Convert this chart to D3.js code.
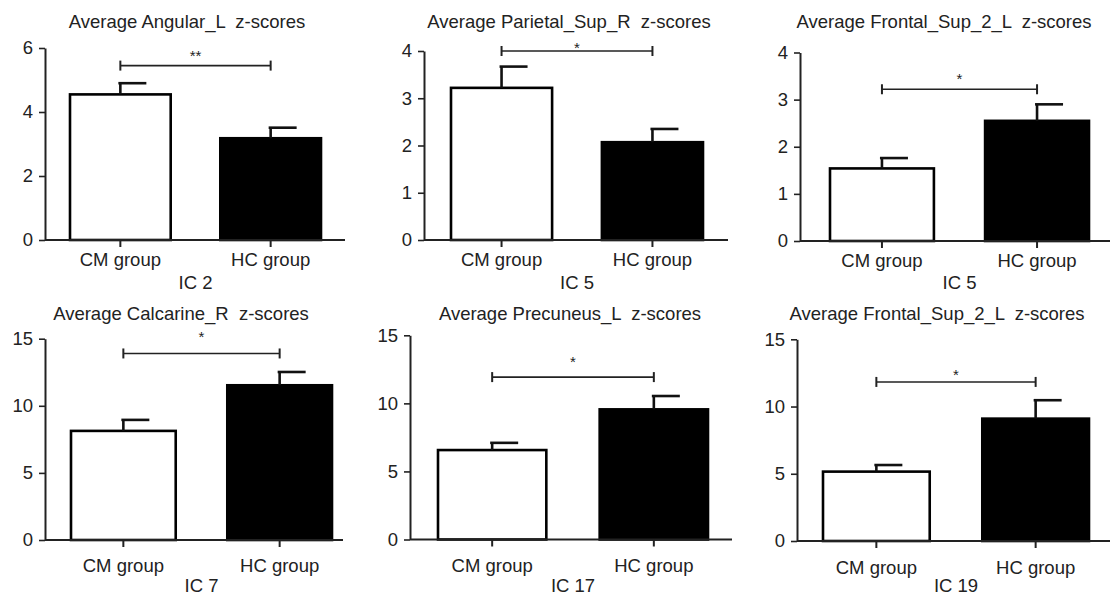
<!DOCTYPE html>
<html>
<head>
<meta charset="utf-8">
<script src="https://cdn.jsdelivr.net/npm/d3@7"></script>
<style>
  body { margin: 0; background: #fff; }
  svg text { font-family: 'Liberation Sans', Arial, sans-serif; fill: #222; }
</style>
</head>
<body>
<div class="chart"></div>
<script>
// DATA ------------------------------------
const categories = ['CM group', 'HC group'];
const titles = [
  'Average Angular_L  z-scores',
  'Average Parietal_Sup_R  z-scores',
  'Average Frontal_Sup_2_L  z-scores',
  'Average Calcarine_R  z-scores',
  'Average Precuneus_L  z-scores',
  'Average Frontal_Sup_2_L  z-scores'
];
const icLabels = ['IC 2', 'IC 5', 'IC 5', 'IC 7', 'IC 17', 'IC 19'];
const cmMeans = [4.55, 3.22, 1.54, 8.13, 6.57, 5.16];
const cmErrors = [0.35, 0.45, 0.22, 0.82, 0.53, 0.49];
const hcMeans = [3.18, 2.07, 2.55, 11.53, 9.56, 9.1];
const hcErrors = [0.33, 0.28, 0.35, 0.99, 0.98, 1.37];
const yMax = [6, 4, 4, 15, 15, 15];
const yTicks = [
  [0, 2, 4, 6],
  [0, 1, 2, 3, 4],
  [0, 1, 2, 3, 4],
  [0, 5, 10, 15],
  [0, 5, 10, 15],
  [0, 5, 10, 15]
];
const stars = ['**', '*', '*', '*', '*', '*'];
const bracketLevels = [5.45, 4.0, 3.22, 13.9, 11.93, 11.83];
const starLevels = [5.85, 4.13, 3.5, 15.35, 13.26, 12.56];

// LAYOUT (pixel positions of each panel) ---
const layout = [
  { axisX: 45, axisEnd: 345, base: 240, top: 48, barL: 70, barR: 321, titleX: 187, titleY: 28, catY: 266, icY: 289 },
  { axisX: 424, axisEnd: 728, base: 240, top: 51, barL: 451, barR: 703, titleX: 569, titleY: 28, catY: 266, icY: 289 },
  { axisX: 800, axisEnd: 1110, base: 241, top: 52.5, barL: 830, barR: 1089, titleX: 944, titleY: 28, catY: 267, icY: 289 },
  { axisX: 45, axisEnd: 343, base: 540, top: 338.7, barL: 71, barR: 332, titleX: 181, titleY: 320, catY: 572, icY: 592 },
  { axisX: 410, axisEnd: 732, base: 539.5, top: 335.3, barL: 438, barR: 708, titleX: 570, titleY: 320, catY: 572, icY: 592 },
  { axisX: 797, axisEnd: 1110, base: 541, top: 339.3, barL: 823, barR: 1089, titleX: 937, titleY: 320, catY: 574, icY: 592 }
];

const fontSize = 18.5;

const svg = d3
  .select('.chart')
  .append('svg')
  .attr('width', 1110)
  .attr('height', 596);

titles.forEach((title, i) => {
  const L = layout[i];
  const g = svg.append('g');

  const rows = categories.map((c, k) => ({
    cat: c,
    mean: k === 0 ? cmMeans[i] : hcMeans[i],
    err: k === 0 ? cmErrors[i] : hcErrors[i],
    fill: k === 0 ? '#fff' : '#000'
  }));

  const xScale = d3.scaleBand().domain(categories).range([L.barL, L.barR]).paddingInner(0.33);
  const yScale = d3.scaleLinear().domain([0, yMax[i]]).range([L.base, L.top]);
  const cx = (d) => xScale(d) + xScale.bandwidth() / 2;

  // bars
  g.selectAll('rect.bar')
    .data(rows)
    .enter()
    .append('rect')
    .attr('class', 'bar')
    .attr('x', (d) => xScale(d.cat))
    .attr('y', (d) => yScale(d.mean))
    .attr('width', xScale.bandwidth())
    .attr('height', (d) => L.base - yScale(d.mean))
    .attr('fill', (d) => d.fill)
    .attr('stroke', '#000')
    .attr('stroke-width', 2.6);

  // error bars (upper only)
  g.selectAll('line.err')
    .data(rows)
    .enter()
    .append('line')
    .attr('x1', (d) => cx(d.cat))
    .attr('x2', (d) => cx(d.cat))
    .attr('y1', (d) => yScale(d.mean))
    .attr('y2', (d) => yScale(d.mean + d.err))
    .attr('stroke', '#111')
    .attr('stroke-width', 2.6);

  g.selectAll('line.cap')
    .data(rows)
    .enter()
    .append('line')
    .attr('x1', (d) => cx(d.cat) - 2)
    .attr('x2', (d) => cx(d.cat) + 26)
    .attr('y1', (d) => yScale(d.mean + d.err))
    .attr('y2', (d) => yScale(d.mean + d.err))
    .attr('stroke', '#111')
    .attr('stroke-width', 2.6);

  // y axis
  const yAxis = d3.axisLeft(yScale)
    .tickValues(yTicks[i])
    .tickFormat(d3.format('d'))
    .tickSize(6)
    .tickSizeOuter(0)
    .tickPadding(6);
  const yg = g.append('g').attr('transform', 'translate(' + L.axisX + ',0)').call(yAxis);
  yg.select('.domain').attr('stroke', '#222').attr('stroke-width', 2);
  yg.selectAll('.tick line').attr('stroke', '#222').attr('stroke-width', 1.6);
  yg.selectAll('.tick text').attr('font-size', fontSize).style('font-family', null);

  // x axis line
  g.append('line')
    .attr('x1', L.axisX)
    .attr('x2', L.axisEnd)
    .attr('y1', L.base)
    .attr('y2', L.base)
    .attr('stroke', '#222')
    .attr('stroke-width', 2);

  const xAxis = d3.axisBottom(xScale).tickSize(7).tickPadding(L.catY - L.base - 20);
  const xg = g.append('g').attr('transform', 'translate(0,' + L.base + ')').call(xAxis);
  xg.select('.domain').remove();
  xg.selectAll('.tick line').attr('stroke', '#222').attr('stroke-width', 2);
  xg.selectAll('.tick text').attr('font-size', fontSize).style('font-family', null);

  // significance bracket
  const by = yScale(bracketLevels[i]);
  const x1 = cx(categories[0]);
  const x2 = cx(categories[1]);
  g.append('line')
    .attr('x1', x1).attr('x2', x2).attr('y1', by).attr('y2', by)
    .attr('stroke', '#222').attr('stroke-width', 1.6);
  [x1, x2].forEach((x) => {
    g.append('line')
      .attr('x1', x).attr('x2', x).attr('y1', by - 5).attr('y2', by + 5)
      .attr('stroke', '#222').attr('stroke-width', 2);
  });
  g.append('text')
    .attr('x', (x1 + x2) / 2)
    .attr('y', yScale(starLevels[i]) + 8)
    .attr('text-anchor', 'middle')
    .attr('font-size', 15)
    .text(stars[i]);

  // title
  g.append('text')
    .attr('x', L.titleX)
    .attr('y', L.titleY)
    .attr('text-anchor', 'middle')
    .attr('font-size', fontSize)
    .style('white-space', 'pre')
    .text(title);

  // IC label
  g.append('text')
    .attr('x', (x1 + x2) / 2)
    .attr('y', L.icY)
    .attr('text-anchor', 'middle')
    .attr('font-size', fontSize)
    .text(icLabels[i]);
});
</script>
</body>
</html>
